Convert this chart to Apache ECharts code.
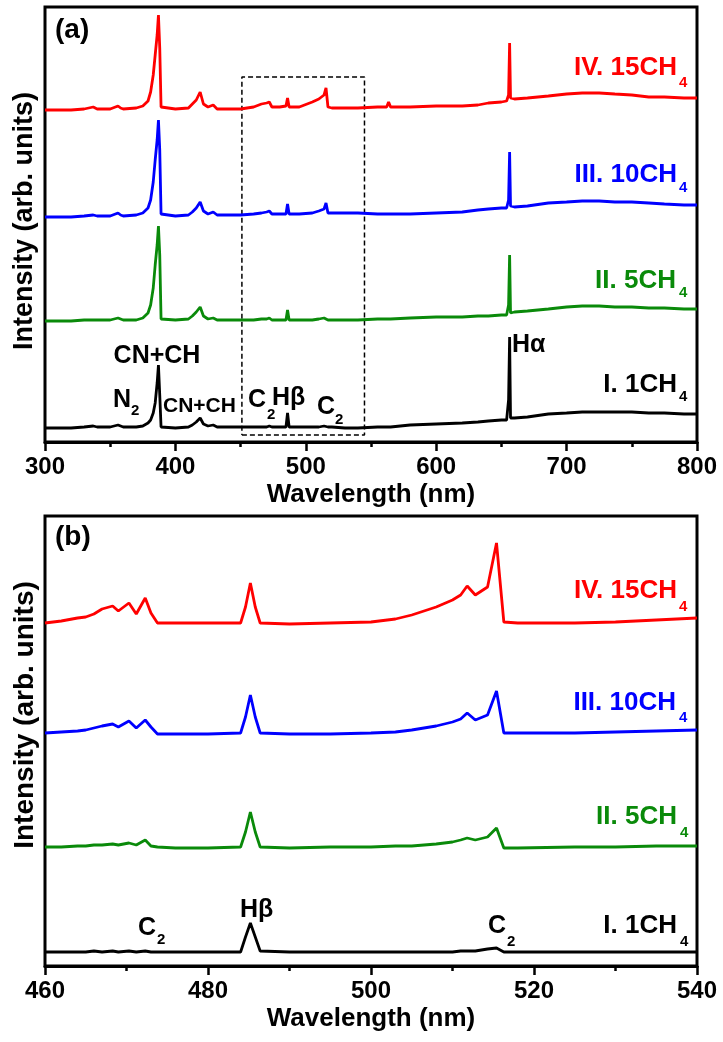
<!DOCTYPE html>
<html>
<head>
<meta charset="utf-8">
<script src="https://cdn.jsdelivr.net/npm/echarts@6/dist/echarts.min.js"></script>
<style>
  html, body { margin: 0; padding: 0; background: #fff; }
  #chart { width: 723px; height: 1042px; }
</style>
</head>
<body>
<div id="chart"></div>
<script>
// ---------------- DATA : panel (a) 300-800 nm ----------------
const wlA = [300, 310, 320, 330, 337, 340, 350, 356, 358, 360,
  370, 375, 379, 381, 383, 384.5, 386, 387, 388, 389,
  390, 400, 410, 413, 416, 419, 420, 421.5, 425, 429,
  432, 440, 450, 460, 466, 470, 472, 474, 480, 484.8,
  486, 487.2, 495, 505, 510, 514, 515.5, 517, 520, 530,
  540, 555, 562, 563.5, 565, 580, 600, 620, 632, 640,
  650, 654, 655.5, 656.3, 657, 660, 670, 686, 700, 712,
  725, 737, 750, 763, 775, 790, 800];

const a15 = [330, 330, 330, 331, 333, 331, 331, 334, 332, 331,
  332, 334, 339, 348, 365, 385, 405, 425, 392, 333,
  331, 331, 332, 336, 340, 348, 346, 336, 333, 335,
  331, 331, 331, 333, 336, 337, 338, 333, 333, 334,
  342, 333, 333, 338, 341, 345, 352, 333, 332, 332,
  332, 333, 333, 338, 333, 333, 334, 334, 335, 337,
  338, 339, 345, 397, 342, 341, 342, 344, 346, 347,
  347, 346, 345, 343, 343, 342, 342];

const a10 = [223, 223, 223, 224, 225, 224, 224, 227, 225, 224,
  225, 227, 232, 240, 258, 280, 300, 320, 290, 226,
  224, 224, 225, 228, 232, 238, 237, 229, 226, 228,
  225, 225, 225, 226, 227, 228, 229, 226, 226, 226,
  236, 226, 226, 227, 229, 231, 237, 227, 227, 227,
  227, 226, 226, 228, 226, 226, 227, 228, 230, 231,
  232, 232, 240, 288, 234, 233, 234, 237, 238, 239,
  239, 238, 238, 237, 236, 235, 235];

const a5 = [119, 119, 119, 120, 120, 120, 120, 122, 121, 120,
  120, 122, 127, 135, 152, 175, 195, 214, 185, 121,
  120, 120, 121, 124, 128, 133, 132, 124, 121, 122,
  120, 120, 120, 120, 121, 121, 122, 120, 120, 120,
  130, 120, 120, 120, 121, 122, 124, 120, 120, 120,
  120, 121, 121, 122, 121, 122, 123, 123, 124, 124,
  125, 125, 135, 185, 127, 128, 129, 131, 133, 134,
  134, 133, 133, 132, 132, 131, 131];

const a1 = [12, 12, 12, 13, 14, 13, 13, 15, 14, 13,
  13, 14, 17, 20, 27, 37, 57, 75, 45, 13,
  12, 12, 13, 15, 18, 22, 21, 16, 14, 15,
  13, 13, 13, 13, 13, 13, 14, 13, 13, 13,
  27, 13, 13, 13, 13, 14, 15, 13, 13, 12,
  12, 13, 13, 14, 13, 15, 16, 17, 18, 19,
  20, 20, 40, 103, 22, 22, 23, 26, 27, 28,
  28, 28, 28, 27, 27, 26, 26];

// zoom window drawn in panel (a)
const boxX = [451, 545];
const boxY = [5, 363];

// ---------------- DATA : panel (b) 460-540 nm ----------------
const wlB = [460, 462, 464, 465, 466, 467, 468.3, 469, 470.3, 471.2,
  472.3, 473, 473.8, 476, 480, 484, 484.6, 485.2, 485.8, 486.4,
  490, 495, 500, 503, 505, 508, 510, 511, 511.8, 512.8,
  514.3, 515.4, 516.3, 518, 525, 530, 535, 540];

const b15 = [344, 346, 349, 350, 353, 358, 361, 356, 364, 353,
  369, 354, 344, 344, 344, 344, 360, 384, 360, 344,
  343, 344, 345, 348, 352, 360, 367, 372, 381, 372,
  380, 424, 345, 344, 344, 345, 347, 349];

const b10 = [234, 235, 236, 237, 239, 241, 243, 240, 246, 239,
  247, 240, 233, 233, 233, 234, 250, 272, 250, 234,
  233, 233, 234, 235, 237, 241, 245, 248, 254, 247,
  252, 276, 234, 234, 234, 235, 236, 237];

const b5 = [120, 120, 121, 121, 122, 122, 123, 122, 124, 122,
  127, 121, 120, 119, 119, 120, 135, 155, 135, 120,
  119, 120, 120, 121, 121, 123, 125, 127, 129, 127,
  130, 139, 119, 119, 120, 120, 121, 121];

const b1 = [15, 15, 15, 15, 16, 15, 16, 15, 16, 15,
  16, 15, 15, 15, 15, 15, 30, 44, 30, 16,
  15, 15, 15, 15, 15, 15, 15, 16, 16, 16,
  18, 19, 15, 15, 15, 15, 15, 15];

// ---------------- STYLE ----------------
const FONT = '"Liberation Sans", Arial, Helvetica, sans-serif';
const RED = '#ff0000', BLUE = '#0000ff', GREEN = '#0a8a0a', BLACK = '#000000';

function zip(xs, ys) {
  return xs.map((x, i) => [x, ys[i]]);
}

function spectrum(name, xs, ys, color, idx) {
  return {
    name: name,
    type: 'line',
    xAxisIndex: idx,
    yAxisIndex: idx,
    data: zip(xs, ys),
    symbol: 'none',
    lineStyle: { color: color, width: 2.8 },
    itemStyle: { color: color },
    silent: true
  };
}

function x_axis(idx, min, max, interval) {
  return {
    type: 'value',
    gridIndex: idx,
    min: min,
    max: max,
    interval: interval,
    name: 'Wavelength (nm)',
    nameLocation: 'middle',
    nameGap: 40,
    nameTextStyle: { fontSize: 26, fontWeight: 'bold', fontFamily: FONT, color: '#000' },
    axisLine: { show: true, onZero: false, lineStyle: { color: '#000', width: 3 } },
    axisTick: { show: true, inside: false, length: 9, lineStyle: { color: '#000', width: 2.5 } },
    minorTick: { show: true, splitNumber: 2, length: 5, lineStyle: { color: '#000', width: 2.5 } },
    axisLabel: { fontSize: 24, fontWeight: 'bold', fontFamily: FONT, color: '#000', margin: 13 },
    splitLine: { show: false },
    minorSplitLine: { show: false }
  };
}

function y_axis(idx, min, max) {
  return { type: 'value', gridIndex: idx, min: min, max: max, show: false };
}

function txt(text, x, y, size, color, align) {
  return {
    type: 'text',
    x: x,
    y: y,
    silent: true,
    z: 100,
    style: {
      text: text,
      fill: color,
      font: 'bold ' + size + 'px ' + FONT,
      textAlign: align || 'left',
      textVerticalAlign: 'middle'
    }
  };
}

// annotations: [text, x, y, size, color, align]
const notes = [
  ['(a)', 55, 30, 28, BLACK],
  ['IV. 15CH', 677, 68, 26, RED, 'right'], ['4', 679, 83, 15, RED],
  ['III. 10CH', 677, 175, 26, BLUE, 'right'], ['4', 679, 188, 15, BLUE],
  ['II. 5CH', 676, 281, 26, GREEN, 'right'], ['4', 679, 293, 15, GREEN],
  ['I. 1CH', 677, 385, 26, BLACK, 'right'], ['4', 679, 397, 15, BLACK],
  ['CN+CH', 157, 356, 25, BLACK, 'center'],
  ['N', 113, 400, 25, BLACK], ['2', 131, 411, 15, BLACK],
  ['CN+CH', 163, 406, 21, BLACK],
  ['C', 248, 400, 25, BLACK], ['2', 267, 415, 15, BLACK],
  ['H\u03b2', 272, 398, 25, BLACK],
  ['C', 317, 407, 25, BLACK], ['2', 335, 420, 15, BLACK],
  ['H\u03b1', 512, 345, 25, BLACK],

  ['(b)', 55, 537, 28, BLACK],
  ['IV. 15CH', 677, 591, 26, RED, 'right'], ['4', 679, 607, 15, RED],
  ['III. 10CH', 676, 703, 26, BLUE, 'right'], ['4', 679, 718, 15, BLUE],
  ['II. 5CH', 677, 817, 26, GREEN, 'right'], ['4', 680, 833, 15, GREEN],
  ['I. 1CH', 677, 926, 26, BLACK, 'right'], ['4', 680, 942, 15, BLACK],
  ['C', 138, 928, 25, BLACK], ['2', 157, 940, 15, BLACK],
  ['H\u03b2', 240, 910, 25, BLACK],
  ['C', 488, 926, 25, BLACK], ['2', 507, 942, 15, BLACK]
];

const graphics = notes.map(n => txt(n[0], n[1], n[2], n[3], n[4], n[5]));

// rotated y titles
[[25, 221, 27], [25, 715, 28]].forEach(p => {
  const t = txt('Intensity (arb. units)', p[0], p[1], p[2], BLACK, 'center');
  t.rotation = Math.PI / 2;
  graphics.push(t);
});

const chart = echarts.init(document.getElementById('chart'), null, { renderer: 'canvas' });

chart.setOption({
  animation: false,
  backgroundColor: '#fff',
  grid: [
    { left: 45, top: 7, width: 652, height: 435, show: true, borderColor: '#000', borderWidth: 3, backgroundColor: 'transparent', outerBoundsMode: 'none' },
    { left: 45, top: 516, width: 652, height: 450, show: true, borderColor: '#000', borderWidth: 3, backgroundColor: 'transparent', outerBoundsMode: 'none' }
  ],
  xAxis: [x_axis(0, 300, 800, 100), x_axis(1, 460, 540, 20)],
  yAxis: [y_axis(0, -2, 433), y_axis(1, 1, 451)],
  series: [
    {
      name: 'zoom box',
      type: 'line',
      xAxisIndex: 0,
      yAxisIndex: 0,
      data: [[boxX[0], boxY[0]], [boxX[1], boxY[0]], [boxX[1], boxY[1]], [boxX[0], boxY[1]], [boxX[0], boxY[0]]],
      symbol: 'none',
      lineStyle: { color: '#000', width: 1.5, type: [5, 3] },
      silent: true
    },
    spectrum('IV. 15CH4', wlA, a15, RED, 0),
    spectrum('III. 10CH4', wlA, a10, BLUE, 0),
    spectrum('II. 5CH4', wlA, a5, GREEN, 0),
    spectrum('I. 1CH4', wlA, a1, BLACK, 0),
    spectrum('IV. 15CH4', wlB, b15, RED, 1),
    spectrum('III. 10CH4', wlB, b10, BLUE, 1),
    spectrum('II. 5CH4', wlB, b5, GREEN, 1),
    spectrum('I. 1CH4', wlB, b1, BLACK, 1)
  ],
  graphic: graphics
});

window.addEventListener('resize', function() {
  chart.resize();
});
</script>
</body>
</html>
